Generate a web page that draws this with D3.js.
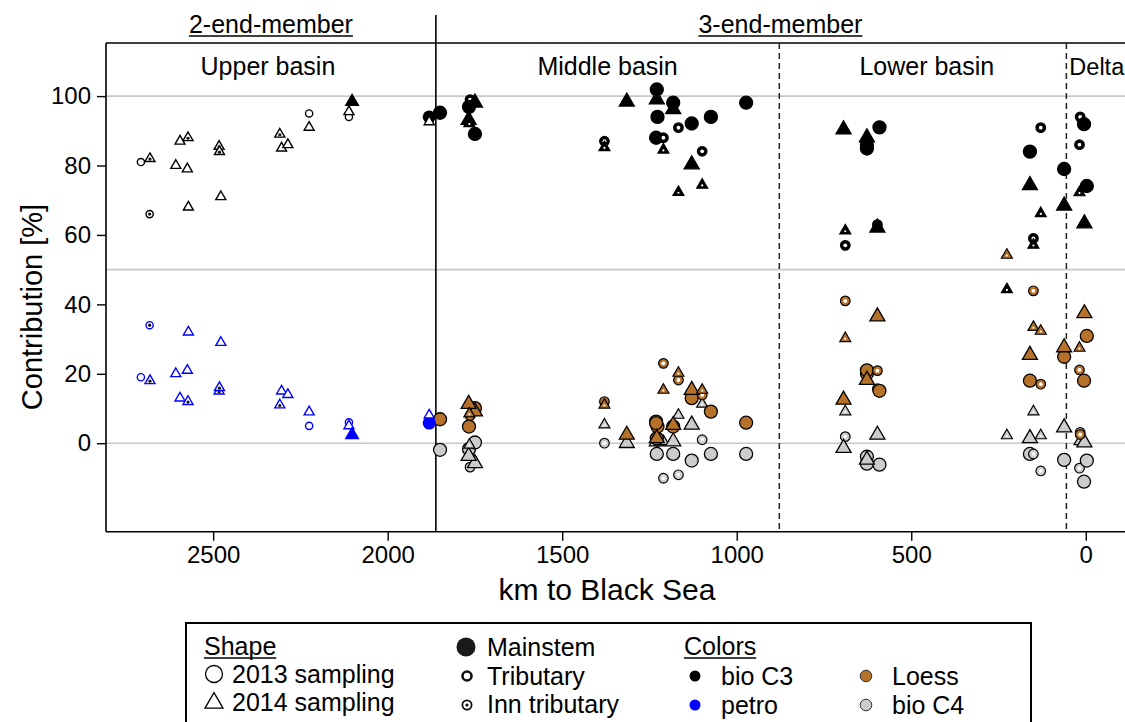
<!DOCTYPE html>
<html>
<head>
<meta charset="utf-8">
<script src="https://cdn.jsdelivr.net/npm/d3@7"></script>
<style>
  html, body { margin: 0; padding: 0; background: #fff; }
  svg { display: block; font-family: "Liberation Sans", Arial, Helvetica, sans-serif; }
</style>
</head>
<body>
<svg id="chart" width="1125" height="722"></svg>
<script>
// ---- data -------------------------------------------------------------
// 2-end-member model (upper basin): [km to Black Sea, sampling year, site type, bio C3 %, petro %]
const upperBasin = [
  [2707, 2013, "trib", 81, 19],
  [2682, 2013, "inn", 66, 34],
  [2681, 2014, "inn", 82, 18],
  [2607, 2014, "trib", 80, 20],
  [2595, 2014, "trib", 87, 13],
  [2574, 2014, "trib", 79, 21],
  [2572, 2014, "inn", 88, 12],
  [2571, 2014, "trib", 68, 32],
  [2483, 2014, "inn", 85.5, 15],
  [2482, 2014, "inn", 84, 16],
  [2478, 2014, "trib", 71, 29],
  [2309, 2014, "inn", 89, 11],
  [2304, 2014, "trib", 85, 15],
  [2286, 2014, "trib", 86, 14],
  [2225, 2013, "trib", 95, 5],
  [2225, 2014, "trib", 91, 9],
  [2111, 2013, "trib", 94, 6],
  [2111, 2014, "trib", 95.5, 5],
  [2102, 2014, "main", 98.4, 2.4],
  [1881, 2013, "main", 94, 5.8],
  [1881, 2014, "trib", 92.6, 8.1]
];

// 3-end-member model: [km to Black Sea, sampling year, site type, bio C3 %, Loess %, bio C4 %]
const middleBasin = [
  [1850, 2013, "main", 95.2, 6.9, -1.9],
  [1764, 2013, "trib", 99.0, 7.9, -6.9],
  [1750, 2014, "main", 98.1, 9.1, -5.8],
  [1767, 2013, "main", 96.9, 4.8, -1.7],
  [1768, 2014, "main", 93.1, 11.3, -3.7],
  [1766, 2014, "trib", 92.1, 8.5, -0.5],
  [1750, 2013, "main", 89.1, 10.1, 0.2],
  [1379, 2013, "trib", 87.0, 12.0, 0.0],
  [1379, 2014, "trib", 85.2, 11.0, 5.3],
  [1315, 2014, "main", 98.4, 2.4, 0.0],
  [1229, 2013, "main", 101.9, 1.4, -3.1],
  [1229, 2014, "main", 99.0, 1.4, 0.5],
  [1227, 2013, "main", 94.0, 4.8, 1.0],
  [1231, 2013, "main", 88.0, 5.8, 6.2],
  [1210, 2013, "trib", 88.0, 23.0, -10.1],
  [1210, 2014, "trib", 84.5, 15.3, 0.5],
  [1182, 2013, "main", 98.1, 4.8, -3.1],
  [1182, 2014, "main", 96.2, 5.2, 0.5],
  [1167, 2013, "trib", 90.9, 18.2, -9.1],
  [1167, 2014, "trib", 72.3, 20.2, 8.1],
  [1129, 2013, "main", 92.1, 13.0, -5.0],
  [1129, 2014, "main", 80.3, 15.3, 5.3],
  [1099, 2013, "trib", 84.1, 13.9, 1.0],
  [1099, 2014, "trib", 74.4, 15.3, 11.3],
  [1074, 2013, "main", 94.0, 9.1, -3.1],
  [973, 2013, "main", 98.1, 5.9, -3.1]
];

const lowerBasin = [
  [694, 2014, "main", 90.4, 12.5, -1.4],
  [689, 2014, "trib", 61.2, 30.2, 9.1],
  [689, 2013, "trib", 57.0, 41.0, 1.9],
  [627, 2014, "main", 88.1, 18.2, -4.8],
  [627, 2013, "main", 85.9, 20.0, -3.9],
  [627, 2013, "main", 84.9, 21.0, -5.9],
  [597, 2013, "trib", 63.0, 20.9, 15.7],
  [597, 2014, "main", 62.1, 36.5, 2.4],
  [591, 2013, "main", 91.0, 15.1, -6.2],
  [226, 2014, "trib", 44.3, 54.2, 2.2],
  [160, 2013, "main", 84.0, 18.0, -3.1],
  [160, 2014, "main", 74.3, 25.4, 1.4],
  [150, 2013, "trib", 59.0, 43.9, -3.1],
  [150, 2014, "trib", 57.1, 33.4, 9.1],
  [129, 2013, "trib", 90.9, 17.0, -8.0],
  [129, 2014, "trib", 66.2, 32.3, 2.2],
  [62, 2013, "main", 79.0, 24.9, -4.8],
  [62, 2014, "main", 68.4, 27.6, 4.5]
];

const delta = [
  [16, 2013, "trib", 94.0, 2.5, 3.1],
  [5, 2013, "main", 91.9, 18.0, -11.1],
  [18, 2013, "trib", 86.0, 21.1, -7.2],
  [-3, 2013, "main", 74.1, 30.9, -5.0],
  [18, 2014, "trib", 72.2, 27.4, 0.5],
  [4, 2014, "main", 63.3, 37.4, 0.2]
];

// section borders (km) and labels
const modelBorderKm = 1862;
const basinBordersKm = [878, 55.6];
const basinNames = ["Upper basin", "Middle basin", "Lower basin", "Delta"];
const modelNames = ["2-end-member", "3-end-member"];

const xTicks = [2500, 2000, 1500, 1000, 500, 0];
const yTicks = [0, 20, 40, 60, 80, 100];
const yGrid = [0, 50, 100];

const colors = { c3: "#000000", petro: "#0000ff", loess: "#b7722a", c4: "#cccccc" };

// ---- scales & frame --------------------------------------------------
const svg = d3.select("#chart");
const W = 1125;
const x = d3.scaleLinear().domain([2807, -184]).range([106, 1150]);
const y = d3.scaleLinear().domain([-25.5, 115.3]).range([531.7, 43]);
const plotLeft = x.range()[0], plotTop = y.range()[1], plotBottom = y.range()[0];

// gridlines
svg.append("g").selectAll("line").data(yGrid).join("line")
  .attr("x1", plotLeft).attr("x2", W)
  .attr("y1", d => y(d)).attr("y2", d => y(d))
  .attr("stroke", "#c8c8c8").attr("stroke-width", 1.6);

// axes
const xAxis = svg.append("g").attr("transform", `translate(0,${plotBottom})`)
  .call(d3.axisBottom(x).tickValues(xTicks).tickSize(9).tickPadding(5).tickFormat(d3.format("d")));
const yAxis = svg.append("g").attr("transform", `translate(${plotLeft},0)`)
  .call(d3.axisLeft(y).tickValues(yTicks).tickSize(9).tickPadding(6).tickFormat(d3.format("d")));
[xAxis, yAxis].forEach(a => {
  a.select(".domain").remove();
  a.selectAll(".tick line").attr("stroke", "#000").attr("stroke-width", 1.4);
  a.selectAll(".tick text").attr("font-size", 24).attr("fill", "#000")
    .attr("font-family", "'Liberation Sans', Arial, sans-serif");
});

// frame lines
const frame = svg.append("g").attr("stroke", "#000").attr("stroke-width", 1.6);
frame.append("line").attr("x1", plotLeft).attr("x2", W).attr("y1", plotTop).attr("y2", plotTop);
frame.append("line").attr("x1", plotLeft).attr("x2", W).attr("y1", plotBottom).attr("y2", plotBottom);
frame.append("line").attr("x1", plotLeft).attr("x2", plotLeft).attr("y1", plotTop).attr("y2", plotBottom);
frame.append("line").attr("x1", x(modelBorderKm)).attr("x2", x(modelBorderKm)).attr("y1", 15).attr("y2", plotBottom);
svg.append("g").selectAll("line").data(basinBordersKm).join("line")
  .attr("x1", d => x(d)).attr("x2", d => x(d)).attr("y1", plotTop).attr("y2", plotBottom)
  .attr("stroke", "#222").attr("stroke-width", 1.5).attr("stroke-dasharray", "6,4");

// axis titles
svg.append("text").attr("x", 607).attr("y", 600).attr("text-anchor", "middle")
  .attr("font-size", 30).text("km to Black Sea");
svg.append("text").attr("transform", "translate(42,307) rotate(-90)").attr("text-anchor", "middle")
  .attr("font-size", 29).text("Contribution [%]");

// underlined text helper
function underlined(g, tx, ty, txt, size, anchor) {
  const t = g.append("text").attr("x", tx).attr("y", ty).attr("text-anchor", anchor)
    .attr("font-size", size).text(txt);
  const b = t.node().getBBox();
  g.append("line").attr("x1", b.x).attr("x2", b.x + b.width)
    .attr("y1", ty + 3).attr("y2", ty + 3).attr("stroke", "#000").attr("stroke-width", 1.4);
}

// model headers
underlined(svg, (plotLeft + x(modelBorderKm)) / 2, 33, modelNames[0], 25, "middle");
underlined(svg, (x(modelBorderKm) + W) / 2, 33, modelNames[1], 25, "middle");

// basin labels
const bx = [x(modelBorderKm), x(basinBordersKm[0]), x(basinBordersKm[1])];
svg.append("text").attr("x", (plotLeft + bx[0]) / 2 - 3).attr("y", 75).attr("text-anchor", "middle").attr("font-size", 25).text(basinNames[0]);
svg.append("text").attr("x", (bx[0] + bx[1]) / 2).attr("y", 75).attr("text-anchor", "middle").attr("font-size", 25).text(basinNames[1]);
svg.append("text").attr("x", (bx[1] + bx[2]) / 2 + 4).attr("y", 75).attr("text-anchor", "middle").attr("font-size", 25).text(basinNames[2]);
svg.append("text").attr("x", bx[2] + 3).attr("y", 75).attr("text-anchor", "start").attr("font-size", 23.5).text(basinNames[3]);

// ---- markers -----------------------------------------------------------
function triPath(cx, cy, w) {
  const h = w * Math.sqrt(3) / 2;
  return `M${cx},${cy - 2 * h / 3}L${cx + w / 2},${cy + h / 3}L${cx - w / 2},${cy + h / 3}Z`;
}

function marker(g, cx, cy, year, kind, color, model) {
  const circle = year === 2013;
  if (model === 2) {
    if (kind === "main") {
      if (circle) g.append("circle").attr("cx", cx).attr("cy", cy).attr("r", 6.5).attr("fill", color);
      else g.append("path").attr("d", triPath(cx, cy, 15)).attr("fill", color);
    } else {
      if (circle) g.append("circle").attr("cx", cx).attr("cy", cy).attr("r", 3.6)
        .attr("fill", "#fff").attr("stroke", color).attr("stroke-width", 1.4);
      else g.append("path").attr("d", triPath(cx, cy, 10)).attr("fill", "#fff")
        .attr("stroke", color).attr("stroke-width", 1.4).attr("stroke-linejoin", "miter");
      if (kind === "inn") g.append("circle").attr("cx", cx).attr("cy", circle ? cy : cy + 0.5).attr("r", 1.6).attr("fill", "#111");
    }
    return;
  }
  if (kind === "main") {
    if (circle) g.append("circle").attr("cx", cx).attr("cy", cy).attr("r", 6.5)
      .attr("fill", color).attr("stroke", "#000").attr("stroke-width", 1.3);
    else g.append("path").attr("d", triPath(cx, cy, 15)).attr("fill", color)
      .attr("stroke", "#000").attr("stroke-width", 1.3);
  } else {
    if (circle) {
      g.append("circle").attr("cx", cx).attr("cy", cy).attr("r", 4.8)
        .attr("fill", color).attr("stroke", "#000").attr("stroke-width", 1.2);
      g.append("circle").attr("cx", cx).attr("cy", cy).attr("r", 1.9).attr("fill", "#fff");
    } else {
      g.append("path").attr("d", triPath(cx, cy, 11)).attr("fill", color)
        .attr("stroke", "#000").attr("stroke-width", 1.2);
      g.append("circle").attr("cx", cx).attr("cy", cy + 0.5).attr("r", 1.1).attr("fill", "#fff");
    }
  }
}

const pts = svg.append("g");
const threeEnd = [...middleBasin, ...lowerBasin, ...delta];
const byShape = rows => [...rows.filter(r => r[1] === 2013), ...rows.filter(r => r[1] === 2014)];

// 3-end-member: bio C4, Loess, bio C3
[[5, "c4"], [4, "loess"], [3, "c3"]].forEach(([col, key]) => {
  byShape(threeEnd).forEach(r => marker(pts, x(r[0]), y(r[col]), r[1], r[2], colors[key], 3));
});
// 2-end-member: bio C3 and petro
[[3, "c3"], [4, "petro"]].forEach(([col, key]) => {
  byShape(upperBasin).forEach(r => marker(pts, x(r[0]), y(r[col]), r[1], r[2], colors[key], 2));
});

// ---- legend ------------------------------------------------------------
const lg = svg.append("g");
lg.append("rect").attr("x", 186).attr("y", 623).attr("width", 845).attr("height", 130)
  .attr("fill", "none").attr("stroke", "#000").attr("stroke-width", 2);

underlined(lg, 204, 655, "Shape", 25, "start");
lg.append("circle").attr("cx", 214).attr("cy", 674).attr("r", 8.5).attr("fill", "none").attr("stroke", "#000").attr("stroke-width", 1.3);
lg.append("text").attr("x", 232).attr("y", 683).attr("font-size", 25).text("2013 sampling");
lg.append("path").attr("d", triPath(214, 703, 18)).attr("fill", "none").attr("stroke", "#000").attr("stroke-width", 1.3);
lg.append("text").attr("x", 232).attr("y", 711).attr("font-size", 25).text("2014 sampling");

lg.append("circle").attr("cx", 466).attr("cy", 647).attr("r", 9.5).attr("fill", "#1a1a1a");
lg.append("text").attr("x", 487).attr("y", 656).attr("font-size", 25).text("Mainstem");
lg.append("circle").attr("cx", 467).attr("cy", 676).attr("r", 4.5).attr("fill", "#fff").attr("stroke", "#111").attr("stroke-width", 2.6);
lg.append("text").attr("x", 487).attr("y", 685).attr("font-size", 25).text("Tributary");
lg.append("circle").attr("cx", 467).attr("cy", 705).attr("r", 4.6).attr("fill", "#fff").attr("stroke", "#111").attr("stroke-width", 1.8);
lg.append("circle").attr("cx", 467).attr("cy", 705).attr("r", 1.6).attr("fill", "#111");
lg.append("text").attr("x", 487).attr("y", 713).attr("font-size", 25).text("Inn tributary");

underlined(lg, 684, 655, "Colors", 25, "start");
const colorKeys = [
  ["c3", "bio C3", 695, 676, "none"],
  ["petro", "petro", 695, 705, "none"],
  ["loess", "Loess", 866, 676, "#333"],
  ["c4", "bio C4", 866, 705, "#333"]
];
colorKeys.forEach(([k, label, cx, cy, st]) => {
  lg.append("circle").attr("cx", cx).attr("cy", cy).attr("r", st === "none" ? 5.5 : 5.8)
    .attr("fill", colors[k]).attr("stroke", st).attr("stroke-width", 1);
  lg.append("text").attr("x", cx + 26).attr("y", cy + 9).attr("font-size", 25).text(label);
});
</script>
</body>
</html>
